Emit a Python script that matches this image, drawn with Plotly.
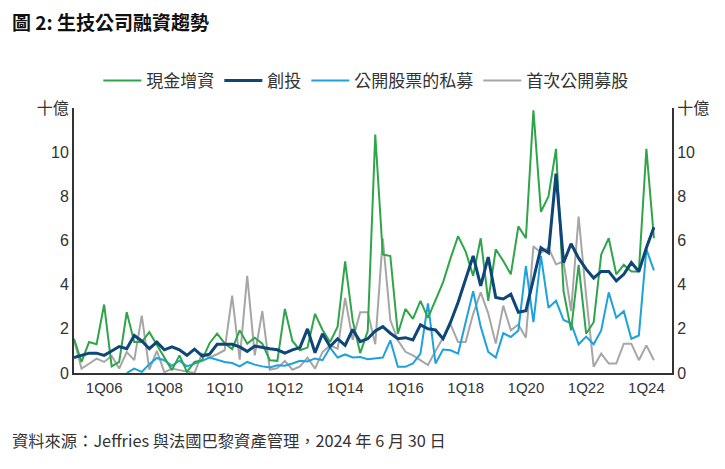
import plotly.graph_objects as go

# Quarter categories 1Q05 .. 2Q24
quarters = [f"{q}Q{yr % 100:02d}" for yr in range(2005, 2025) for q in range(1, 5)][:78]

x_tick_labels = ["1Q06", "1Q08", "1Q10", "1Q12", "1Q14", "1Q16", "1Q18", "1Q20", "1Q22", "1Q24"]
y_tick_vals = [0, 2, 4, 6, 8, 10, 12]
y_tick_text = ["0", "2", "4", "6", "8", "10", "十億"]

# 現金增資 (follow-on offerings), USD bn
follow_on = [1.55, 0.5, 1.4, 1.3, 3.1, 0.3, 0.5, 2.75, 1.4, 1.4,
             1.85, 1.25, 0.7, 0.13, 0.8, 0.05, 0.5, 0.58, 1.35, 1.78,
             1.35, 1.08, 1.93, 1.33, 1.6, 1.33, 0.58, 0.55, 2.9, 1.45,
             1.03, 1.15, 2.68, 1.95, 1.4, 2.1, 5.05, 2.38, 0.9, 1.9,
             10.8, 5.37, 5.3, 1.78, 2.9, 2.45, 3.27, 2.5, 3.3, 4.1,
             5.2, 6.2, 5.5, 4.4, 6.1, 3.27, 5.6, 5.07, 4.47, 6.64,
             6.1, 11.9, 7.3, 8.0, 10.15, 3.7, 1.93, 4.9, 1.78, 2.3,
             5.37, 6.1, 4.47, 4.9, 4.6, 4.6, 10.15, 6.1]

# 創投 (venture capital)
venture = [0.7, 0.8, 0.9, 0.9, 0.8, 1.0, 1.2, 1.1, 1.7, 1.45,
           1.1, 1.4, 1.05, 1.18, 1.05, 0.8, 1.08, 0.78, 0.85, 1.3,
           1.3, 1.3, 1.18, 0.98, 1.22, 1.15, 1.1, 1.05, 0.9, 1.05,
           1.15, 2.0, 0.92, 1.78, 1.2, 1.55, 1.25, 1.97, 1.42, 1.55,
           1.9, 2.1, 1.8, 1.55, 1.6, 1.5, 2.18, 2.0, 1.95, 1.55,
           2.3, 3.2, 4.2, 5.3, 3.95, 5.25, 3.42, 3.35, 3.57, 2.75,
           2.82, 4.3, 5.67, 5.44, 9.03, 5.0, 5.85, 5.2, 4.7, 4.3,
           4.6, 4.6, 4.17, 4.47, 5.0, 4.6, 5.67, 6.6]

# 公開股票的私募 (PIPE)
pipe = [None, None, None, None, None, None, None, 0.0, 0.2, 0.05,
        0.4, 0.68, 0.58, 0.33, 0.56, 0.3, 0.42, 0.55, 0.7, 0.6,
        0.5, 0.45, 0.3, 0.5, 0.38, 0.3, 0.25, 0.35, 0.33, 0.43,
        0.55, 0.52, 0.66, 0.58, 1.15, 0.7, 0.84, 0.7, 0.72, 0.62,
        0.66, 0.7, 1.48, 0.28, 0.28, 0.43, 0.88, 3.15, 0.43, 1.06,
        1.03, 0.88, 2.3, 3.7, 2.1, 0.96, 0.7, 1.8, 1.63, 1.93,
        4.84, 2.3, 5.3, 2.95, 3.27, 2.4, 2.25, 1.3, 1.65, 1.3,
        1.93, 3.65, 2.5, 2.8, 1.55, 1.7, 5.6, 4.65]

# 首次公開募股 (IPO)
ipo = [1.5, 0.2, 0.42, 0.65, 0.5, 0.77, 0.2, 0.95, 0.58, 2.6,
       0.15, 1.0, 0.03, 0.2, 0.13, 0.06, 0.0, 0.88, 0.7, 0.85,
       1.03, 3.5, 0.6, 4.4, 0.8, 2.8, 0.15, 0.22, 0.55, 0.15,
       0.3, 0.7, 0.2, 0.95, 1.25, 1.1, 3.4, 1.5, 2.75, 2.75,
       1.3, 6.1, 2.4, 1.48, 0.96, 0.8, 0.58, 0.36, 1.0, 1.6,
       2.2, 1.4, 1.4, 2.68, 3.65, 2.7, 1.33, 3.05, 1.93, 2.2,
       1.6, 5.74, 5.45, 5.67, 4.92, 5.05, 2.8, 7.08, 3.5, 0.28,
       0.88, 0.43, 0.43, 1.33, 1.33, 0.58, 1.25, 0.58]

FONT = "Liberation Sans, Arial, Noto Sans CJK TC, sans-serif"
CJK = "Noto Sans CJK TC, sans-serif"
TXT = "#333333"

W, H = 717, 461  # page adds an 8px body margin
L, R, T, B = 66, 53, 100, 96

fig = go.Figure()
fig.add_trace(go.Scatter(x=quarters, y=ipo, name="首次公開募股", mode="lines",
                         line=dict(color="#a6a6a6", width=2), legendrank=4))
fig.add_trace(go.Scatter(x=quarters, y=pipe, name="公開股票的私募", mode="lines",
                         line=dict(color="#1ea2dc", width=2), legendrank=3))
fig.add_trace(go.Scatter(x=quarters, y=follow_on, name="現金增資", mode="lines",
                         line=dict(color="#2fa549", width=2), legendrank=1))
fig.add_trace(go.Scatter(x=quarters, y=venture, name="創投", mode="lines",
                         line=dict(color="#0d4677", width=3), legendrank=2))
# carrier for the right-hand axis
fig.add_trace(go.Scatter(x=quarters, y=venture, yaxis="y2", mode="lines",
                         line=dict(color="rgba(0,0,0,0)", width=0),
                         showlegend=False, hoverinfo="skip"))

pw, ph = W - L - R, H - T - B

fig.update_layout(
    width=W, height=H,
    margin=dict(l=L, r=R, t=T, b=B),
    paper_bgcolor="white", plot_bgcolor="white",
    font=dict(family=FONT, size=15, color=TXT),
    title=dict(text="<b>圖 2: 生技公司融資趨勢</b>", x=4 / W, xref="container", xanchor="left",
               y=1 - 15 / H, yref="container", yanchor="middle",
               font=dict(family=CJK, size=19, color="#111111")),
    showlegend=True,
    legend=dict(orientation="h", x=0.488, xanchor="center", y=(T + ph - 73) / ph,
                yanchor="middle", itemwidth=38,
                font=dict(family=CJK, size=17, color=TXT), traceorder="normal",
                bgcolor="rgba(0,0,0,0)"),
    xaxis=dict(type="category", range=[0, 79.4], tickmode="array", tickvals=x_tick_labels,
               ticktext=x_tick_labels, showgrid=False, zeroline=False, showline=True,
               linecolor="#333333", linewidth=2, ticks="", tickfont=dict(size=15, color=TXT)),
    yaxis=dict(range=[0, 12], tickmode="array", tickvals=y_tick_vals, ticktext=y_tick_text,
               showgrid=False, zeroline=False, showline=True, linecolor="#333333", linewidth=2,
               ticks="", tickfont=dict(family=FONT, size=16, color=TXT)),
    yaxis2=dict(range=[0, 12], overlaying="y", side="right", tickmode="array",
                tickvals=y_tick_vals, ticktext=y_tick_text, showgrid=False, zeroline=False,
                showline=True, linecolor="#333333", linewidth=2, ticks="",
                tickfont=dict(family=FONT, size=16, color=TXT)),
    annotations=[dict(text="資料來源：Jeffries 與法國巴黎資產管理，2024 年 6 月 30 日",
                      xref="paper", yref="paper", x=(2 - L) / pw, y=(T + ph - 432) / ph,
                      xanchor="left", yanchor="middle", showarrow=False,
                      font=dict(family=CJK, size=16.3, color=TXT))],
)

fig.write_html("out.html")
